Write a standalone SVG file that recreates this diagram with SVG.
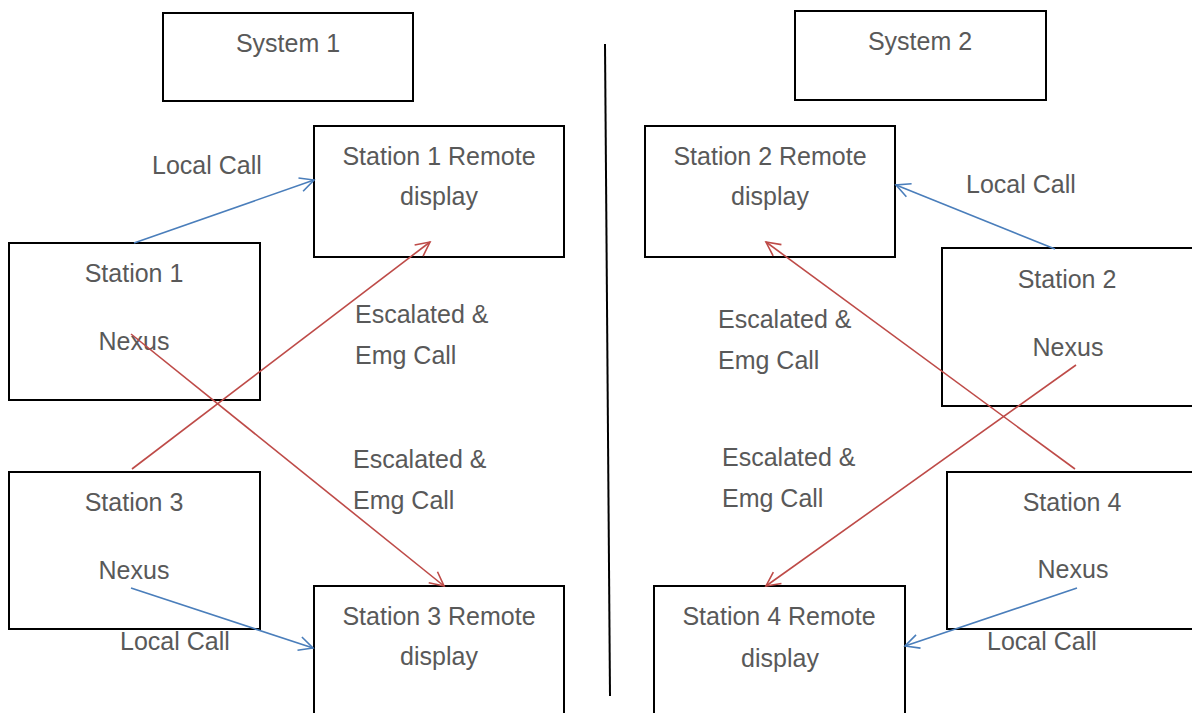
<svg xmlns="http://www.w3.org/2000/svg" width="1192" height="713" viewBox="0 0 1192 713">
<style>
.box{fill:#fff;stroke:#000;stroke-width:2}
.t{font-family:"Liberation Sans",Arial,sans-serif;font-size:25px;fill:#595959}
.c{text-anchor:middle}
.blue{stroke:#4a7ebb;stroke-width:1.6;fill:none}
.red{stroke:#be4b48;stroke-width:1.6;fill:none}
</style>
<defs>
<marker id="ab" markerUnits="userSpaceOnUse" markerWidth="20" markerHeight="20" viewBox="-16 -10 20 20" refX="0" refY="0" orient="auto">
<path d="M-14,-7 L0,0 L-14,7" fill="none" stroke="#4a7ebb" stroke-width="1.6"/>
</marker>
<marker id="ar" markerUnits="userSpaceOnUse" markerWidth="20" markerHeight="20" viewBox="-16 -10 20 20" refX="0" refY="0" orient="auto">
<path d="M-14,-7 L0,0 L-14,7" fill="none" stroke="#be4b48" stroke-width="1.6"/>
</marker>
</defs>
<line x1="605" y1="44" x2="610" y2="696" stroke="#000" stroke-width="2"/>
<g id="system1"><rect class="box" x="163" y="13" width="250" height="88"/><text class="t c" x="288" y="52">System 1</text></g>
<g id="system2"><rect class="box" x="795" y="11" width="251" height="89"/><text class="t c" x="920" y="50">System 2</text></g>
<g id="s1remote"><rect class="box" x="314" y="126" width="250" height="131"/><text class="t c" x="439" y="165">Station 1 Remote</text><text class="t c" x="439" y="205">display</text></g>
<g id="s2remote"><rect class="box" x="645" y="126" width="250" height="131"/><text class="t c" x="770" y="165">Station 2 Remote</text><text class="t c" x="770" y="205">display</text></g>
<g id="station1"><rect class="box" x="9" y="243" width="251" height="157"/><text class="t c" x="134" y="282">Station 1</text><text class="t c" x="134" y="350">Nexus</text></g>
<g id="station2"><rect class="box" x="942" y="248" width="260" height="158"/><text class="t c" x="1067" y="288">Station 2</text><text class="t c" x="1068" y="356">Nexus</text></g>
<g id="station3"><rect class="box" x="9" y="472" width="251" height="157"/><text class="t c" x="134" y="511">Station 3</text><text class="t c" x="134" y="579">Nexus</text></g>
<g id="station4"><rect class="box" x="947" y="472" width="260" height="157"/><text class="t c" x="1072" y="511">Station 4</text><text class="t c" x="1073" y="578">Nexus</text></g>
<g id="s3remote"><rect class="box" x="314" y="586" width="250" height="140"/><text class="t c" x="439" y="625">Station 3 Remote</text><text class="t c" x="439" y="665">display</text></g>
<g id="s4remote"><rect class="box" x="654" y="586" width="251" height="140"/><text class="t c" x="779" y="625">Station 4 Remote</text><text class="t c" x="780" y="667">display</text></g>
<g id="connectors">
<line class="blue" x1="134" y1="243" x2="314" y2="180" marker-end="url(#ab)"/>
<line class="red" x1="132" y1="469" x2="430" y2="242" marker-end="url(#ar)"/>
<line class="red" x1="131" y1="334" x2="444" y2="586" marker-end="url(#ar)"/>
<line class="blue" x1="131" y1="588" x2="313" y2="648" marker-end="url(#ab)"/>
<line class="blue" x1="1055" y1="249" x2="896" y2="185" marker-end="url(#ab)"/>
<line class="red" x1="1075" y1="469" x2="766" y2="242" marker-end="url(#ar)"/>
<line class="red" x1="1076" y1="365" x2="766" y2="586" marker-end="url(#ar)"/>
<line class="blue" x1="1077" y1="588" x2="905" y2="646" marker-end="url(#ab)"/>
</g>
<g id="labels">
<text class="t" x="152" y="174">Local Call</text>
<text class="t" x="355" y="323">Escalated &amp;</text>
<text class="t" x="355" y="364">Emg Call</text>
<text class="t" x="353" y="468">Escalated &amp;</text>
<text class="t" x="353" y="509">Emg Call</text>
<text class="t" x="120" y="650">Local Call</text>
<text class="t" x="966" y="193">Local Call</text>
<text class="t" x="718" y="328">Escalated &amp;</text>
<text class="t" x="718" y="369">Emg Call</text>
<text class="t" x="722" y="466">Escalated &amp;</text>
<text class="t" x="722" y="507">Emg Call</text>
<text class="t" x="987" y="650">Local Call</text>
</g>
</svg>
